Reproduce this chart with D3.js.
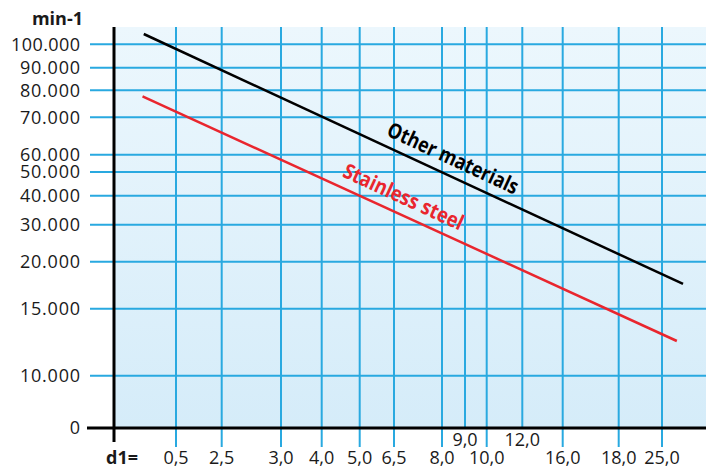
<!DOCTYPE html>
<html lang="en">
<head>
<meta charset="UTF-8">
<title>Speed vs d1</title>
<script src="https://d3js.org/d3.v7.min.js"></script>
<style>
  body { margin: 0; background: #fff; }
  text { font-family: "Open Sans", sans-serif; fill: #1a1a1a; }
</style>
</head>
<body>
<div class="chart"></div>
<script>
  // tick values (d1 in mm, speed in min-1)
  const d1Ticks = [0.5, 2.5, 3, 4, 5, 6.5, 8, 9, 10, 12, 16, 18, 25];
  const d1Raised = [9, 12];                 // labels drawn above the others
  const rpmTicks = [0, 10000, 15000, 20000, 30000, 40000, 50000, 60000, 70000, 80000, 90000, 100000];

  // series: start and end of each straight line
  const seriesNames = ['Other materials', 'Stainless steel'];
  const otherD1  = [0.24, 28.4];
  const otherRpm = [104400, 17630];
  const steelD1  = [0.23, 27.4];
  const steelRpm = [77780, 12590];

  // the chart is a nomogram: grid positions are not evenly spaced
  const xPos = [114, 176, 221.7, 281, 321.7, 359.7, 394, 442, 465, 486.7, 522.3, 562.7, 618.7, 662];
  const yPos = [428, 375.7, 308.7, 261.7, 224.7, 195.7, 172, 154.7, 117.3, 90.3, 67.7, 44.3];

  const W = 706, H = 468;
  const plot = { left: 114, top: 27, right: 706, bottom: 428 };
  const blue = '#29a9e0', red = '#e9262e';

  const x = d3.scaleLinear().domain([0].concat(d1Ticks)).range(xPos);
  const y = d3.scaleLinear().domain(rpmTicks).range(yPos);

  const loc = d3.formatLocale({ decimal: ',', thousands: '.', grouping: [3], currency: ['', ''] });
  const fmtY = loc.format(',');
  const fmtX = loc.format('.1f');

  const svg = d3.select('.chart').append('svg').attr('width', W).attr('height', H);

  const grad = svg.append('defs').append('linearGradient').attr('id', 'bg')
    .attr('x1', 0).attr('y1', 0).attr('x2', 0).attr('y2', 1);
  grad.append('stop').attr('offset', 0).attr('stop-color', '#ecf7fd');
  grad.append('stop').attr('offset', 1).attr('stop-color', '#d5ecf9');

  svg.append('rect')
    .attr('x', plot.left).attr('y', plot.top)
    .attr('width', plot.right - plot.left).attr('height', plot.bottom - plot.top)
    .attr('fill', 'url(#bg)');

  // horizontal grid
  svg.append('g').selectAll('line').data(rpmTicks.filter(d => d > 0)).join('line')
    .attr('x1', 90).attr('x2', plot.right)
    .attr('y1', d => y(d)).attr('y2', d => y(d))
    .attr('stroke', blue).attr('stroke-width', 2);

  // vertical grid
  svg.append('g').selectAll('line').data(d1Ticks).join('line')
    .attr('x1', d => x(d)).attr('x2', d => x(d))
    .attr('y1', plot.top)
    .attr('y2', d => d1Raised.includes(d) ? plot.bottom : 447)
    .attr('stroke', blue).attr('stroke-width', 2);

  // axes
  svg.append('line').attr('x1', plot.left).attr('x2', plot.left)
    .attr('y1', plot.top).attr('y2', 442).attr('stroke', '#000').attr('stroke-width', 3);
  svg.append('line').attr('x1', 87).attr('x2', plot.right)
    .attr('y1', plot.bottom).attr('y2', plot.bottom).attr('stroke', '#000').attr('stroke-width', 3);

  // y labels
  svg.append('g').selectAll('text').data(rpmTicks).join('text')
    .attr('x', 80).attr('y', d => y(d)).attr('dy', '0.36em')
    .attr('text-anchor', 'end').style('font-size', '18px')
    .attr('textLength', d => d === 0 ? null : (d >= 100000 ? 69 : 60))
    .attr('lengthAdjust', 'spacing')
    .text(d => fmtY(d));

  svg.append('text').attr('x', 83).attr('y', 25).attr('text-anchor', 'end')
    .style('font-size', '18px').style('font-weight', 'bold').text('min-1');

  // x labels
  svg.append('g').selectAll('text').data(d1Ticks).join('text')
    .attr('x', d => x(d)).attr('y', d => d1Raised.includes(d) ? 446 : 464)
    .attr('text-anchor', 'middle').style('font-size', '18px')
    .text(d => fmtX(d));

  svg.append('text').attr('x', 106).attr('y', 464)
    .style('font-size', '18px').style('font-weight', 'bold').text('d1=');

  // lines
  const series = [
    { name: seriesNames[0], d1: otherD1, rpm: otherRpm, color: '#000', at: 0.56, len: 142 },
    { name: seriesNames[1], d1: steelD1, rpm: steelRpm, color: red, at: 0.475, len: 130 }
  ];
  const lineGen = d3.line().x(d => x(d[0])).y(d => y(d[1]));

  series.forEach(s => {
    const pts = s.d1.map((d, i) => [d, s.rpm[i]]);
    svg.append('path').attr('d', lineGen(pts))
      .attr('fill', 'none').attr('stroke', s.color).attr('stroke-width', 2.5);

    const x0 = x(pts[0][0]), y0 = y(pts[0][1]), x1 = x(pts[1][0]), y1 = y(pts[1][1]);
    const ang = Math.atan2(y1 - y0, x1 - x0) * 180 / Math.PI;
    const px = x0 + (x1 - x0) * s.at, py = y0 + (y1 - y0) * s.at;
    svg.append('text')
      .attr('transform', `translate(${px},${py}) rotate(${ang})`)
      .attr('y', -10).attr('text-anchor', 'middle')
      .attr('textLength', s.len).attr('lengthAdjust', 'spacingAndGlyphs')
      .style('font-size', '21px').style('font-weight', 'bold')
      .style('fill', s.color)
      .text(s.name);
  });
</script>
</body>
</html>
